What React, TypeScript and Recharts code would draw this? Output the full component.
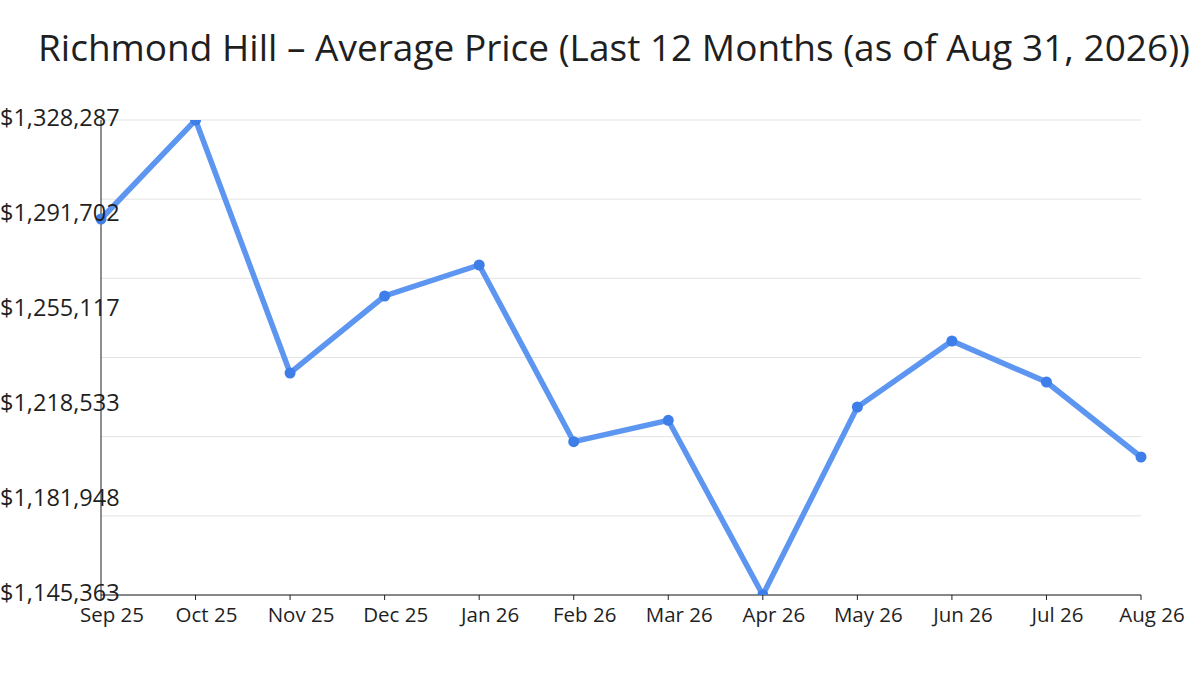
import { CartesianGrid, Line, LineChart, XAxis, YAxis } from "recharts";

const months = [
  "Sep 25", "Oct 25", "Nov 25", "Dec 25", "Jan 26", "Feb 26",
  "Mar 26", "Apr 26", "May 26", "Jun 26", "Jul 26", "Aug 26",
];

const avgPrice = [
  1290162, 1328287, 1230857, 1260509, 1272447, 1204400,
  1212641, 1145363, 1217763, 1243180, 1227391, 1198508,
];

// labelled ticks on the price axis
const priceTicks = [1145363, 1181948, 1218533, 1255117, 1291702, 1328287];
// the grid lines use a finer, separate split of the same range
const gridTicks = [1145363, 1175850, 1206338, 1236825, 1267312, 1297800, 1328287];

const data = months.map((month, i) => ({ month, price: avgPrice[i] }));

const fmt = (v: number) => "$" + v.toLocaleString("en-US");

const font = "'Open Sans', 'Noto Sans', sans-serif";

const PriceTick = ({ y, payload }: any) => (
  <text x={0} y={y} dy={6} fontSize={23.5} fill="#1f1f1f" fontFamily={font} textAnchor="start">
    {fmt(payload.value)}
  </text>
);

const MonthTick = ({ x, y, payload }: any) => (
  <text x={x + 11} y={y} dy={20} fontSize={20.5} fill="#1f1f1f" fontFamily={font} textAnchor="middle">
    {payload.value}
  </text>
);

export default function App() {
  return (
    <div style={{ position: "absolute", left: 0, top: 0, width: 1200, height: 675, background: "#fff", overflow: "hidden" }}>
      <div
        style={{
          position: "absolute",
          left: 38,
          top: 21,
          fontFamily: font,
          fontSize: 37,
          lineHeight: "52px",
          color: "#1f1f1f",
          whiteSpace: "nowrap",
        }}
      >
        Richmond Hill – Average Price (Last 12 Months (as of Aug 31, 2026))
      </div>
      <LineChart
        width={1200}
        height={675}
        data={data}
        margin={{ top: 120, right: 59, bottom: 0, left: 0 }}
      >
        <CartesianGrid
          yAxisId="price"
          vertical={false}
          stroke="#e3e3e3"
          horizontalValues={gridTicks}
        />
        <XAxis
          dataKey="month"
          height={80}
          stroke="#1f1f1f"
          tickSize={5}
          tick={<MonthTick />}
          interval={0}
        />
        <YAxis
          yAxisId="price"
          width={101}
          domain={[1145363, 1328287]}
          ticks={priceTicks}
          stroke="#1f1f1f"
          tickLine={false}
          tick={<PriceTick />}
          allowDataOverflow
        />
        <Line
          yAxisId="price"
          dataKey="price"
          stroke="#5d96f0"
          strokeWidth={5.5}
          dot={{ r: 5.5, fill: "#3d7ee9", stroke: "#3d7ee9", strokeWidth: 0 }}
          isAnimationActive={false}
        />
      </LineChart>
    </div>
  );
}
